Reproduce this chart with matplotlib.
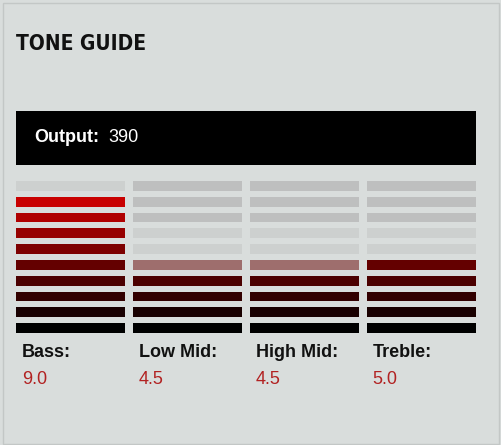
import matplotlib.pyplot as plt
import matplotlib.transforms as mtransforms
from matplotlib.patches import Rectangle

# 데이터
bands = ["Bass", "Low Mid", "High Mid", "Treble"]
values = [9.0, 4.5, 4.5, 5.0]
output_value = 390
n_segments = 10

bg = "#d9dddc"
gray_dark = "#bebfbf"
gray_light = "#cdd0cf"
value_color = "#b22222"


def level_color(level):
    # 아래(검정)에서 위(빨강)로 점점 밝아짐
    r = 25 * (level - 1) / 255
    return (r, 0, 0)


fig = plt.figure(figsize=(5.01, 4.45), dpi=100)
fig.patch.set_facecolor(bg)

W, H = 501, 445

# 테두리
fig.patches.append(Rectangle((2.5 / W, 1.5 / H), 496.5 / W, 441 / H,
                             transform=fig.transFigure, fill=False,
                             edgecolor="#c3c7c6", lw=1))

# 제목
fig.text(16 / W, 1 - 44 / H, "TONE GUIDE",
         family=["DejaVu Sans"], fontstretch="condensed",
         fontweight="bold", fontsize=15, va="center", ha="left", color="#111111")

# Output 박스
fig.patches.append(Rectangle((16 / W, 1 - 165 / H), 459.5 / W, 54 / H,
                             transform=fig.transFigure, facecolor="black",
                             edgecolor="none"))
fig.text(34 / W, 1 - 138 / H, "Output:", family="Liberation Sans",
         fontweight="bold", fontsize=13, color="white", va="center")
fig.text(108 / W, 1 - 138 / H, str(output_value), family="Liberation Sans",
         fontsize=13, color="white", va="center")

# 막대 영역
ax = fig.add_axes([16 / W, 1 - 336 / H, 459.5 / W, 158 / H])
ax.set_xlim(-0.465, len(bands) - 1 + 0.465)
ax.set_ylim(0.49, n_segments + 0.51)
ax.axis("off")

for i, v in enumerate(values):
    for level in range(1, n_segments + 1):
        alpha = 1.0
        if level <= v:
            color = level_color(level)
        elif level - 1 < v:
            # 반칸
            color = level_color(level)
            alpha = v - (level - 1)
        elif level <= int(-(-v // 1)) + 2:
            color = gray_light
        else:
            color = gray_dark
        ax.bar(i, 0.62, bottom=level - 0.31, width=0.93, color=color,
               alpha=alpha, edgecolor="none")

# 라벨
trans = mtransforms.blended_transform_factory(ax.transData, fig.transFigure)
for i, (name, v) in enumerate(zip(bands, values)):
    ax.text(i - 0.415, 1 - 352.5 / H, name + ":", transform=trans,
            family="Liberation Sans", fontweight="bold", fontsize=13,
            color="#111111", va="center", ha="left", clip_on=False)
    ax.text(i - 0.415, 1 - 379.5 / H, "%.1f" % v, transform=trans,
            family="Liberation Sans", fontsize=13, color=value_color,
            va="center", ha="left", clip_on=False)

plt.savefig("out.png", dpi=100, facecolor=bg)
